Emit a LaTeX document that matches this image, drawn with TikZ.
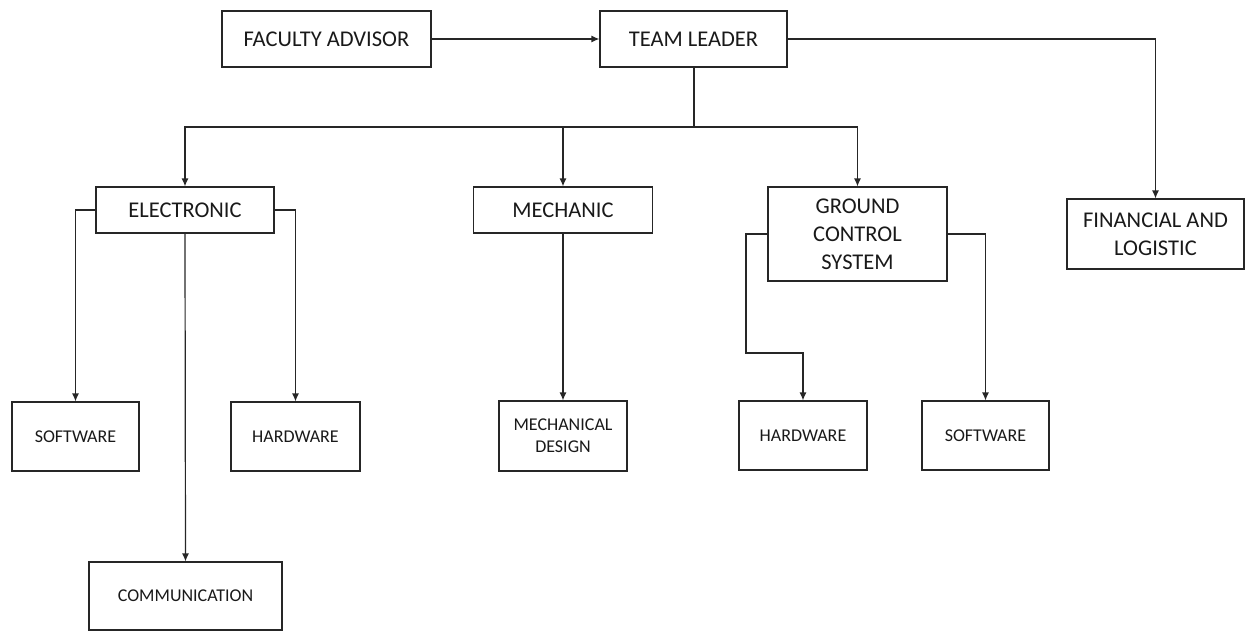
\documentclass[tikz,border=0pt]{standalone}
\usepackage{fontspec}
\setmainfont{Carlito}
\usetikzlibrary{arrows.meta}
\begin{document}
\begin{tikzpicture}[x=1pt,y=-1pt,
  box/.style={draw=black!85,line width=1.2pt,inner sep=0pt,align=center,font=\fontsize{22.5}{28}\selectfont,text=black!90},
  sbox/.style={box,font=\fontsize{18}{22}\selectfont},
  conn/.style={draw=black!85,line width=1.2pt},
  arr/.style={conn,-{Latex[length=8pt,width=7pt]}}]
\useasboundingbox (0,0) rectangle (1248,630);
\node[box,minimum width=209pt,minimum height=56pt] (fa) at (326.5,39) {FACULTY ADVISOR};
\node[box,minimum width=187pt,minimum height=56pt] (tl) at (693.5,39) {TEAM LEADER};
\node[box,minimum width=177pt,minimum height=70pt] (fin) at (1155.5,234) {FINANCIAL AND\\LOGISTIC};
\node[box,minimum width=178pt,minimum height=46pt] (el) at (185,210) {ELECTRONIC};
\node[box,minimum width=179pt,minimum height=46pt] (mech) at (563,210) {MECHANIC};
\node[box,minimum width=179pt,minimum height=94pt] (gcs) at (857.5,234) {GROUND\\CONTROL\\SYSTEM};
\node[sbox,minimum width=127pt,minimum height=69pt] (sw1) at (75.5,436.5) {SOFTWARE};
\node[sbox,minimum width=129pt,minimum height=69pt] (hw1) at (295.5,436.5) {HARDWARE};
\node[sbox,minimum width=193pt,minimum height=68pt] (comm) at (185.5,596) {COMMUNICATION};
\node[sbox,minimum width=128pt,minimum height=70pt] (md) at (563,436) {MECHANICAL\\DESIGN};
\node[sbox,minimum width=128pt,minimum height=69pt] (hw2) at (803,435.5) {HARDWARE};
\node[sbox,minimum width=127pt,minimum height=69pt] (sw2) at (985.5,435.5) {SOFTWARE};
\coordinate (bus) at (693.5,127);
\coordinate (gl) at (746,353);
\draw[arr] (fa) -- (tl);
\draw[arr] (tl.east) -| (fin.north);
\draw[conn,line width=2pt] (tl.south) -- (bus) -- (mech.north |- bus);
\draw[arr] (bus) -| (el.north);
\draw[arr] (bus) -| (mech.north);
\draw[arr] (bus) -| (gcs.north);
\draw[arr] (el.west) -| (sw1.north);
\draw[arr] (el.east) -| (hw1.north);
\draw[arr] (el.south) -- (comm.north);
\draw[arr] (mech.south) -- (md.north);
\draw[arr] (gcs.west) -| (gl) -| (hw2.north);
\draw[arr] (gcs.east) -| (sw2.north);
\end{tikzpicture}
\end{document}
